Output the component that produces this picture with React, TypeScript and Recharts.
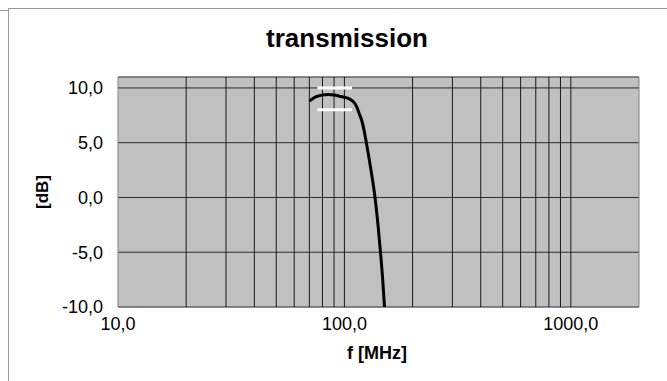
import { LineChart, Line, XAxis, YAxis, CartesianGrid, ReferenceLine, ReferenceArea } from 'recharts';

// measured transmission curve
const freqs = [70, 75, 80, 85, 90, 95, 100, 105, 111, 113.7, 116.5, 119, 122.2, 125, 131, 136.5, 140.7, 144.3, 147.6, 150.3];
const gains = [8.8, 9.2, 9.35, 9.4, 9.35, 9.25, 9.15, 9.0, 8.6, 8.2, 7.6, 7.1, 6.1, 5.0, 2.5, 0.0, -2.5, -5.0, -7.5, -10.0];

// spec mask (white bars)
const maskFreqs = [76, 108];
const maskUpper = [10, 10];
const maskLower = [8, 8];

const xTicks = [10, 100, 1000];
const yTicks = [-10, -5, 0, 5, 10];
const xGrid = [20, 30, 40, 50, 60, 70, 80, 90, 100, 200, 300, 400, 500, 600, 700, 800, 900, 1000];

const curve = freqs.map((f, i) => ({ f, db: gains[i] }));
const upper = maskFreqs.map((f, i) => ({ f, db: maskUpper[i] }));
const lower = maskFreqs.map((f, i) => ({ f, db: maskLower[i] }));

const fmt = (v: number) => v.toFixed(1).replace('.', ',');
const font = '"Liberation Sans", Arial, sans-serif';

export default function App() {
    return (
        <div style={{ position: 'absolute', left: 0, top: 0, width: 667, height: 381, background: '#fff', fontFamily: font }}>
            {/* frame bits from the sheet */}
            <div style={{ position: 'absolute', left: 8, top: 8, width: 659, height: 373, borderLeft: '1px solid #9a9a9a', borderTop: '1px solid #9a9a9a' }} />
            <div style={{ position: 'absolute', left: 0, top: 10, width: 8, borderTop: '1px solid #9a9a9a' }} />
            <div style={{ position: 'absolute', left: 347, top: 25, transform: 'translateX(-50%)', lineHeight: '26px', fontSize: 26, fontWeight: 'bold', color: '#000', whiteSpace: 'nowrap' }}>
                transmission
            </div>
            <div style={{ position: 'absolute', left: 43, top: 192, transform: 'translate(-50%, -50%) rotate(-90deg)', fontSize: 17, fontWeight: 'bold', whiteSpace: 'nowrap' }}>
                [dB]
            </div>
            <div style={{ position: 'absolute', left: 377, top: 353, transform: 'translate(-50%, -50%)', fontSize: 18, fontWeight: 'bold', whiteSpace: 'nowrap' }}>
                f [MHz]
            </div>
            <LineChart width={667} height={381} margin={{ top: 77, right: 28, bottom: 44, left: 58 }} style={{ position: 'absolute', left: 0, top: 0 }}>
                <CartesianGrid vertical={false} fill="#c0c0c0" stroke="#2a2a2a" strokeWidth={1} />
                {xGrid.map(v => (
                    <ReferenceLine key={v} x={v} stroke="#1a1a1a" strokeWidth={1} />
                ))}
                <ReferenceArea x1={10} x2={2000} y1={-10} y2={11} fill="none" fillOpacity={0} stroke="#808080" strokeWidth={1} />
                <XAxis
                    dataKey="f"
                    type="number"
                    scale="log"
                    domain={[10, 2000]}
                    ticks={xTicks}
                    allowDataOverflow
                    axisLine={false}
                    tickLine={false}
                    tickSize={0}
                    tickMargin={10}
                    height={30}
                    tickFormatter={fmt}
                    tick={{ fill: '#000', fontSize: 18, fontFamily: font }}
                />
                <YAxis
                    type="number"
                    domain={[-10, 11]}
                    ticks={yTicks}
                    allowDataOverflow
                    axisLine={false}
                    tickLine={false}
                    tickSize={0}
                    tickMargin={15}
                    width={60}
                    tickFormatter={fmt}
                    tick={{ fill: '#000', fontSize: 18, fontFamily: font }}
                />
                <Line data={upper} dataKey="db" stroke="#fff" strokeWidth={3} dot={false} isAnimationActive={false} />
                <Line data={lower} dataKey="db" stroke="#fff" strokeWidth={3} dot={false} isAnimationActive={false} />
                <Line data={curve} dataKey="db" type="monotone" stroke="#000" strokeWidth={3} dot={false} isAnimationActive={false} />
            </LineChart>
        </div>
    );
}
